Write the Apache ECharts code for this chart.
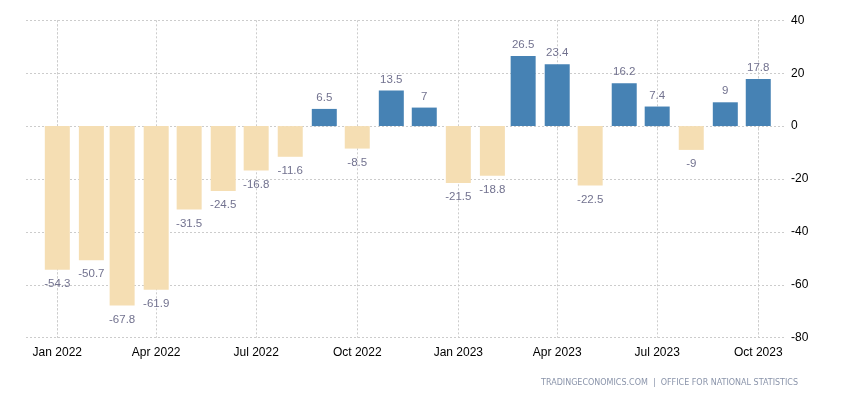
<!DOCTYPE html>
<html>
<head>
<meta charset="utf-8">
<script src="https://cdn.jsdelivr.net/npm/echarts@6/dist/echarts.min.js"></script>
<style>html,body{margin:0;padding:0;background:#fff}#c{width:850px;height:400px}</style>
</head>
<body>
<div id="c"></div>
<script>
const months = ['2022-01','2022-02','2022-03','2022-04','2022-05','2022-06','2022-07','2022-08','2022-09','2022-10','2022-11','2022-12',
                '2023-01','2023-02','2023-03','2023-04','2023-05','2023-06','2023-07','2023-08','2023-09','2023-10'];
const values = [-54.3,-50.7,-67.8,-61.9,-31.5,-24.5,-16.8,-11.6,6.5,-8.5,13.5,7,
                -21.5,-18.8,26.5,23.4,-22.5,16.2,7.4,-9,9,17.8];
const tickDates = ['2022-01-01','2022-04-01','2022-07-01','2022-10-01','2023-01-01','2023-04-01','2023-07-01','2023-10-01'];
const yTicks = [-80,-60,-40,-20,0,20,40];

const ts = s => echarts.number.parseDate(s).getTime();
const POS = '#4682b4', NEG = '#f5deb3';
const data = months.map((m, i) => ({
  value: [ts(m + '-01'), values[i]],
  itemStyle: { color: values[i] >= 0 ? POS : NEG },
  label: { position: values[i] >= 0 ? 'top' : 'bottom', distance: values[i] >= 0 ? 5 : 8 }
}));
const tickVals = tickDates.map(ts);
const gridLine = { color: '#cccccc', type: [2, 2], width: 1 };

// visible extent of the time axis; ECharts widens a bar axis by half a bar on each side,
// so shrink the requested extent by that amount to keep the visible range.
const GRID_L = 26, GRID_R = 65, W = 850, BAR_W = 25;
const axisLen = W - GRID_L - GRID_R;
const visMin = ts('2021-12-03T12:00:00'), visMax = ts('2023-10-25T08:00:00');
const padMs = (BAR_W / 2) * (visMax - visMin) / axisLen;

const chart = echarts.init(document.getElementById('c'), null, { renderer: 'canvas' });
chart.setOption({
  animation: false,
  textStyle: { fontFamily: 'Liberation Sans, Arial, sans-serif' },
  grid: { left: GRID_L, right: GRID_R, top: 20.3, bottom: 62.3, containLabel: false },
  xAxis: {
    type: 'time',
    min: visMin + padMs,
    max: visMax - padMs,
    axisLine: { show: false },
    axisTick: { show: true, length: 4, customValues: tickVals, lineStyle: gridLine },
    axisLabel: { customValues: tickVals, formatter: '{MMM} {yyyy}', color: '#000', fontSize: 12, margin: 9, hideOverlap: false },
    splitLine: { show: true, lineStyle: gridLine }
  },
  yAxis: {
    type: 'value',
    position: 'right',
    min: yTicks[0], max: yTicks[yTicks.length - 1], interval: 20,
    axisLine: { show: false }, axisTick: { show: false },
    axisLabel: { color: '#000', fontSize: 12, margin: 6 },
    splitLine: { show: true, lineStyle: gridLine }
  },
  series: [{
    type: 'bar',
    barWidth: BAR_W,
    data: data,
    label: { show: true, color: '#72728f', fontSize: 11.5, formatter: p => String(p.value[1]) }
  }],
  graphic: [{
    type: 'text', right: 52, top: 379,
    style: { text: 'TRADINGECONOMICS.COM  |  OFFICE FOR NATIONAL STATISTICS', fill: '#8a94aa', font: '8px "DejaVu Sans", Verdana, sans-serif' }
  }]
});
</script>
</body>
</html>
